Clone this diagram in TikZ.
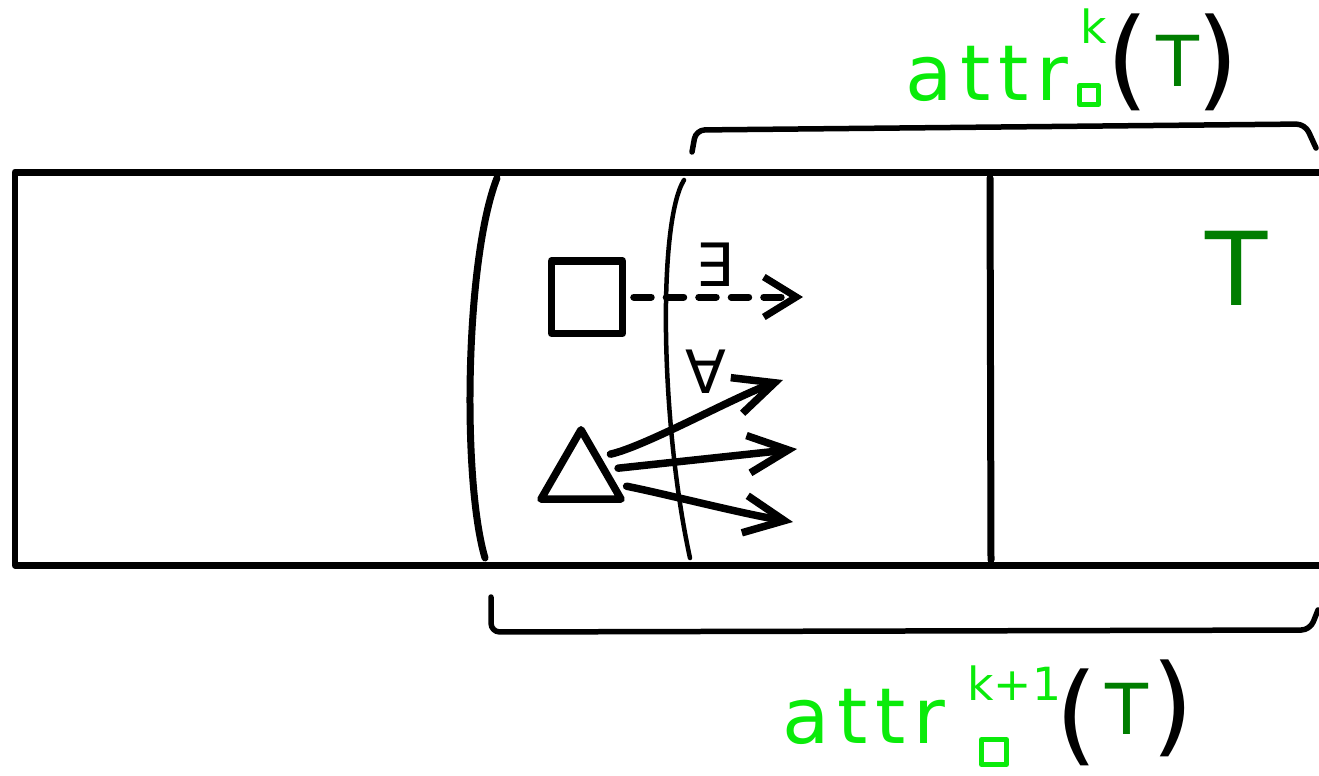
\documentclass[tikz,border=0pt]{standalone}
\usepackage{fontspec}
\setmainfont{DejaVu Sans}
\newfontfamily\handfont[LetterSpace=10]{DejaVu Sans}
\usetikzlibrary{shapes.geometric, arrows.meta}
\definecolor{lightgreen}{RGB}{10,235,10}
\definecolor{darkgreen}{RGB}{0,125,0}

\begin{document}
\begin{tikzpicture}[
  x=0.02cm, y=-0.02cm,
  line cap=round, line join=round,
  wall/.style={line width=0.14cm},
  box/.style={rectangle, draw, line width=0.15cm, minimum width=1.42cm, minimum height=1.45cm},
  tri/.style={regular polygon, regular polygon sides=3, draw, line width=0.15cm, minimum size=1.85cm, inner sep=0pt},
  subbox/.style={rectangle, draw=lightgreen, line width=0.1cm, inner sep=0pt},
  arrow/.style={line width=0.15cm, shorten <=0.2cm, -{Straight Barb[length=0.8cm, width=0.75cm]}},
  dasharrow/.style={line width=0.14cm, dash pattern=on 0.35cm off 0.3cm, -{Straight Barb[length=0.65cm, width=0.8cm]}},
  bracket/.style={line width=0.11cm, rounded corners=5pt},
  bigtext/.style={inner sep=0pt, font=\handfont\fontsize{44}{50}\selectfont},
  suptext/.style={inner sep=0pt, font=\fontsize{26}{30}\selectfont},
  ttext/.style={inner sep=0pt, font=\fontsize{40}{46}\selectfont},
  parentext/.style={inner sep=0pt, font=\fontsize{62}{70}\selectfont},
  quant/.style={inner sep=0pt, font=\fontsize{34}{38}\selectfont}
]
  \useasboundingbox (0,0) rectangle (1319,775);

  % strip and its cuts
  \draw[wall] (1330,172) -- (15,172) -- (15,565) -- (1330,565);
  \draw[wall] (497,178) .. controls (465,260) and (462,480) .. (485,558);
  \draw[line width=0.09cm] (684,180) .. controls (658,222) and (660,420) .. (690,558);
  \draw[wall] (990,178) -- (991,560);
  \node[ttext, darkgreen, font=\fontsize{58}{64}\selectfont] (tset) at (1237,268) {T};

  % square player, existential move
  \node[box] (sq) at (587,297) {};
  \coordinate (exend) at (803,297);
  \draw[dasharrow, shorten <=0.15cm] (sq.east) -- (exend);
  \node[quant] (exists) at (714,265) {∃};

  % triangle player, universal moves
  \node[tri] (tri) at (581,476) {};
  \coordinate (upend) at (783,380);
  \coordinate (midend) at (797,449);
  \coordinate (lowend) at (793,522);
  \draw[arrow] (tri.45) .. controls +(45,-10) and +(-45,15) .. (upend);
  \draw[arrow] (tri.14) -- (midend);
  \draw[arrow] (tri.-13) .. controls +(50,10) and +(-50,-8) .. (lowend);
  \node[quant] (forall) at (706,372) {∀};

  % top bracket
  \draw[bracket] (692,152) -- (696,130) -- (1305,124) -- (1316,148);
  \node[bigtext, lightgreen, anchor=base west] (attrtop) at (905,100) {attr};
  \node[suptext, lightgreen, anchor=base west] (ktop) at (1080,43) {k};
  \node[subbox, minimum size=0.38cm] (sqtop) at (1089,95) {};
  \node[parentext] (lptop) at (1128,62) {(};
  \node[ttext, darkgreen] (ttop) at (1178,61) {T};
  \node[parentext] (rptop) at (1218,62) {)};

  % bottom bracket
  \draw[bracket] (491,597) -- (491,632) -- (1310,630) -- (1318,610);
  \node[bigtext, lightgreen, anchor=base west] (attrbot) at (782,743) {attr};
  \node[suptext, lightgreen, anchor=base west] (kbot) at (967,700) {k+1};
  \node[subbox, minimum size=0.5cm] (sqbot) at (994,752) {};
  \node[parentext] (lpbot) at (1077,717) {(};
  \node[ttext, darkgreen] (tbot) at (1127,709) {T};
  \node[parentext] (rpbot) at (1173,708) {)};
\end{tikzpicture}
\end{document}
